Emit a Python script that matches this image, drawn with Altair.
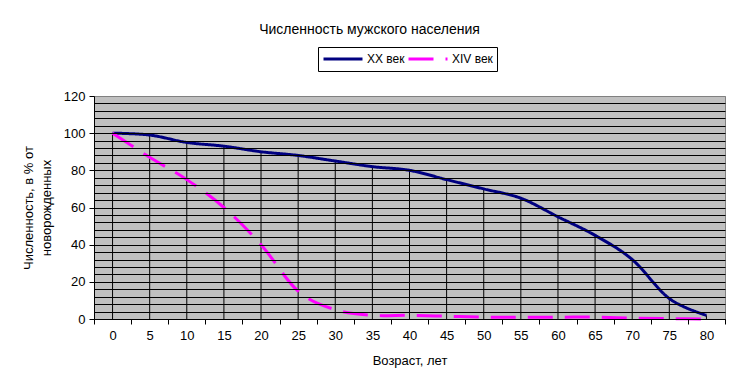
import altair as alt
import pandas as pd

ages = [0, 5, 10, 15, 20, 25, 30, 35, 40, 45, 50, 55, 60, 65, 70, 75, 80]
xx_century = [100, 99, 95, 93, 90, 88, 85, 82, 80, 75, 70, 65, 55, 45, 32, 11, 2]
xiv_century = [100, 87, 75, 60, 40, 15, 5, 2, 2, 1.5, 1, 1, 1, 1, 0.5, 0.2, 0]
series_names = ["XX век", "XIV век"]
y_ticks = [0, 20, 40, 60, 80, 100, 120]

title_text = "Численность мужского населения"
x_title = "Возраст, лет"
y_title = ["Численность, в % от", "новорожденных"]

FONT = "Liberation Sans"
W, H = 631, 223

df_xx = pd.DataFrame({"age": ages, "value": xx_century, "series": series_names[0]})
df_xiv = pd.DataFrame({"age": ages, "value": xiv_century, "series": series_names[1]})

half = 2.5
x_bounds = [a - half for a in ages] + [ages[-1] + half]
grid_vals = list(range(0, 121, 4))

x_scale = alt.Scale(domain=[ages[0] - half, ages[-1] + half], nice=False, zero=False)
y_scale = alt.Scale(domain=[0, 120], nice=False)

x_axis = alt.Axis(
    values=x_bounds, tickCount=200, grid=False, title=x_title,
    labelExpr="datum.value > 80 ? '' : format(datum.value + 2.5, 'd')",
    labelOffset=W / len(ages) / 2, labelFlush=False, labelOverlap=False,
    tickSize=5, labelPadding=5, titlePadding=12, zindex=1,
)
y_axis = alt.Axis(
    values=grid_vals, tickCount=200, grid=True, title=y_title,
    labelExpr="indexof(" + str(y_ticks) + ", datum.value) >= 0 ? format(datum.value, 'd') : ''",
    tickOpacity={"condition": {"test": "datum.value % 20 === 0", "value": 1}, "value": 0},
    gridColor={"condition": {"test": "datum.value === 120", "value": "#808080"}, "value": "#000000"},
    labelOverlap=False, tickSize=5, labelPadding=4,
    titleAngle=-90, titleX=-66, titleY=H / 2, titleAlign="center", titleBaseline="middle",
    titleLineHeight=18, zindex=1,
)

color_scale = alt.Scale(domain=series_names, range=["#000080", "#FF00FF"])
dash_scale = alt.Scale(domain=series_names, range=[[1, 0], [25, 12]])

drops = alt.Chart(df_xx).mark_rule(color="black", strokeWidth=1).encode(
    x=alt.X("age:Q", scale=x_scale, axis=x_axis),
    y=alt.Y("value:Q", scale=y_scale, axis=y_axis),
    y2=alt.datum(0),
)


def series_line(d):
    return alt.Chart(d).mark_line(interpolate="cardinal", tension=0, strokeWidth=3).encode(
        x=alt.X("age:Q", scale=x_scale),
        y=alt.Y("value:Q", scale=y_scale),
        color=alt.Color("series:N", scale=color_scale, legend=alt.Legend(title=None)),
        strokeDash=alt.StrokeDash("series:N", scale=dash_scale, legend=alt.Legend(title=None)),
    )


chart = alt.layer(drops, series_line(df_xx), series_line(df_xiv)).properties(
    width=W, height=H,
    title=alt.TitleParams(title_text, anchor="middle", dx=-40, offset=10,
                          fontSize=14, fontWeight="normal", font=FONT, color="black"),
    autosize=alt.AutoSizeParams(type="none"),
    padding={"left": 86, "top": 88, "right": 8, "bottom": 65},
    background="white",
).configure_view(
    fill="#C0C0C0", stroke="#808080", strokeWidth=1,
).configure_axis(
    labelFont=FONT, titleFont=FONT, labelFontSize=13, titleFontSize=13,
    labelColor="black", titleColor="black", titleFontWeight="normal",
    domainColor="black", tickColor="black", gridWidth=1, domainWidth=1, tickWidth=1,
).configure_legend(
    orient="none", legendX=224, legendY=-49, direction="horizontal",
    strokeColor="black", padding=4, symbolSize=1521, symbolStrokeWidth=3,
    clipHeight=16,
    labelFont=FONT, labelFontSize=12, labelColor="black", labelOffset=3,
    columnPadding=2, symbolType="stroke",
)

chart.save("out.html", embed_options={"renderer": "svg", "actions": False})
